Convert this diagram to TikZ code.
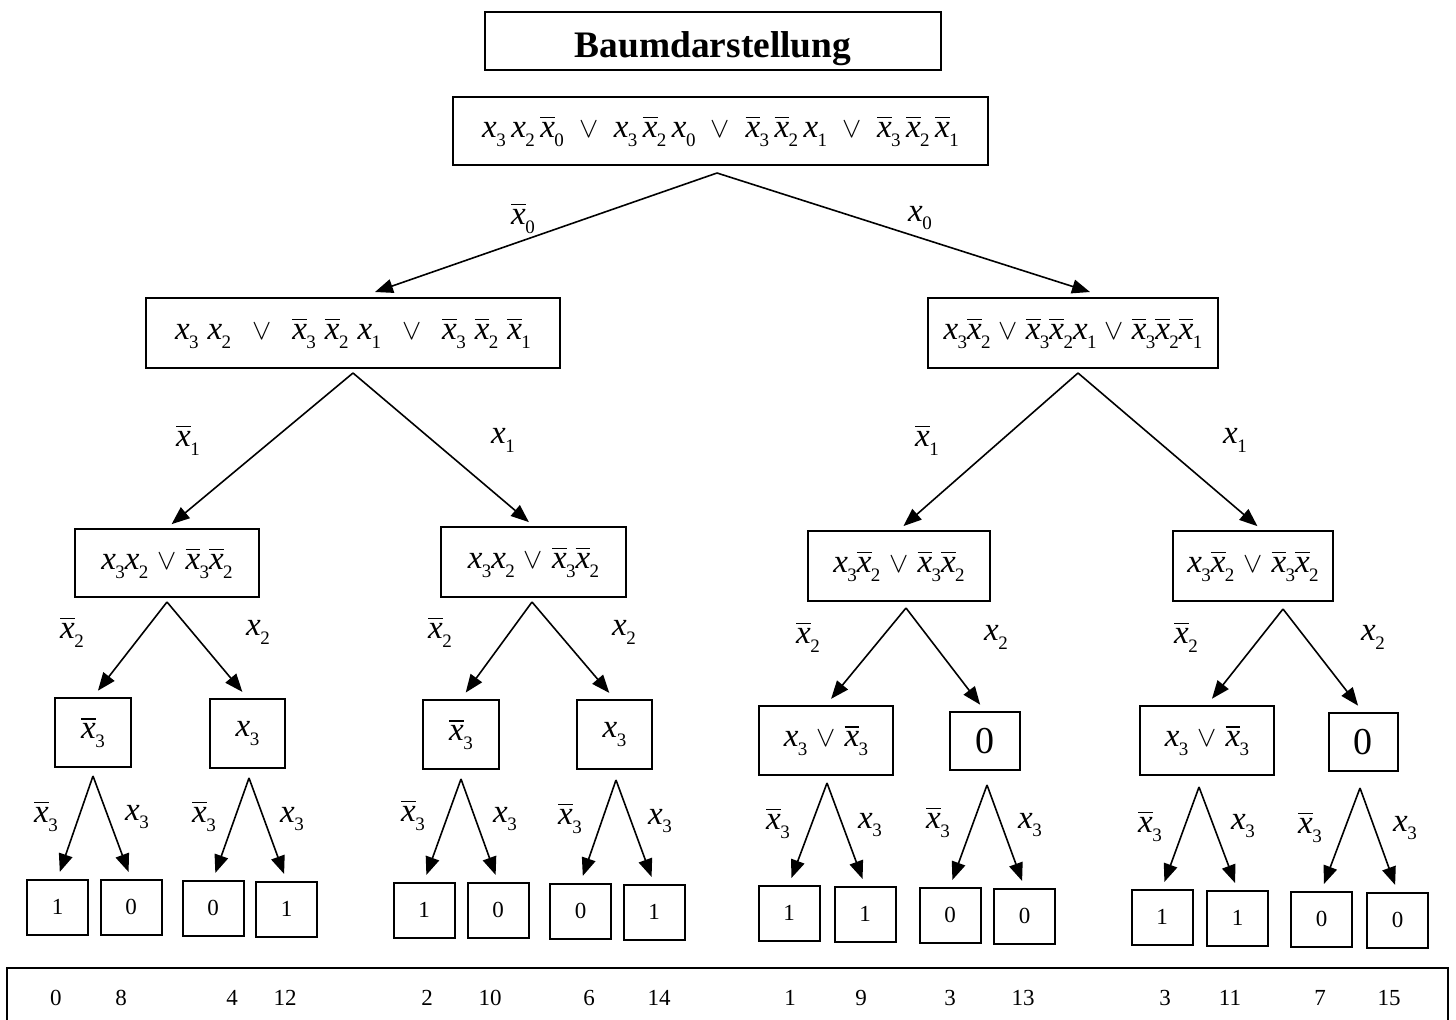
\documentclass[tikz,border=0pt]{standalone}
\usepackage{amsmath}
\usepackage{fontspec}
\setmainfont{Liberation Serif}
\usepackage{tikz}
\usetikzlibrary{arrows.meta}

\newcommand{\xp}[1]{\textit{x}\kern-0.3pt\raisebox{-0.27em}{\fontsize{9.5}{11}\selectfont #1}}
\newcommand{\xq}[1]{$\overline{\textit{x}}$\kern-0.3pt\raisebox{-0.27em}{\fontsize{9.5}{11}\selectfont #1}}
\newcommand{\oder}{{\fontsize{14}{16}\selectfont$\vee$}}
\newcommand{\ou}[1][4.5pt]{\hspace{#1}\oder\hspace{#1}}

\tikzset{
  titel/.style={draw, line width=1pt, inner sep=0pt, minimum width=228pt, minimum height=29pt,
    text height=18pt, text depth=2pt, font=\bfseries\fontsize{18.7}{22}\selectfont},
  knoten/.style={draw, line width=1pt, inner sep=0pt, font=\fontsize{16.5}{19}\selectfont},
  blatt/.style={draw, line width=1pt, inner sep=0pt, minimum width=30.5pt, minimum height=27.5pt,
    font=\fontsize{11.5}{13}\selectfont},
  marke/.style={inner sep=0pt, font=\fontsize{16.5}{19}\selectfont},
  kante/.style={-{Triangle[length=9pt,width=7pt]}, line width=0.8pt},
}

\begin{document}
\begin{tikzpicture}[x=0.5pt,y=-0.5pt]
\useasboundingbox (0,0) rectangle (1456,1019);
\node[titel] (titel) at (713,41) {Baumdarstellung};
\node[knoten, minimum width=267.5pt, minimum height=34pt] (w) at (720.5,131)
  {\xp{3}\,\xp{2}\,\xq{0}\ou[7.7pt]\xp{3}\,\xq{2}\,\xp{0}\ou[7.7pt]\xq{3}\,\xq{2}\,\xp{1}\ou[7.7pt]\xq{3}\,\xq{2}\,\xq{1}};
% erste Ebene
\node[knoten, minimum width=207pt, minimum height=35pt] (l1) at (353,333)
  {\xp{3}\hspace{4.5pt}\xp{2}\ou[10.5pt]\xq{3}\hspace{4.5pt}\xq{2}\hspace{4.5pt}\xp{1}\ou[10.5pt]\xq{3}\hspace{4.5pt}\xq{2}\hspace{4.5pt}\xq{1}};
\node[knoten, minimum width=145pt, minimum height=35pt] (l2) at (1073,333)
  {\xp{3}\xq{2}\ou[4pt]\xq{3}\xq{2}\xp{1}\ou[4pt]\xq{3}\xq{2}\xq{1}};
% zweite Ebene
\node[knoten, minimum width=92pt, minimum height=34pt] (m1) at (167,563) {\xp{3}\xp{2}\ou\xq{3}\xq{2}};
\node[knoten, minimum width=92.5pt, minimum height=35pt] (m2) at (533.5,562) {\xp{3}\xp{2}\ou\xq{3}\xq{2}};
\node[knoten, minimum width=91pt, minimum height=35pt] (m3) at (899,566) {\xp{3}\xq{2}\ou\xq{3}\xq{2}};
\node[knoten, minimum width=80pt, minimum height=35pt] (m4) at (1253,566) {\xp{3}\xq{2}\ou\xq{3}\xq{2}};
% dritte Ebene
\node[knoten, minimum width=38pt, minimum height=34.5pt] (c1) at (93,732.5) {\xq{3}};
\node[knoten, minimum width=37.5pt, minimum height=34.5pt] (c2) at (247.5,733.5) {\xp{3}};
\node[knoten, minimum width=38pt, minimum height=34.5pt] (c3) at (461,734.5) {\xq{3}};
\node[knoten, minimum width=37.5pt, minimum height=34.5pt] (c4) at (614.5,734.5) {\xp{3}};
\node[knoten, minimum width=67pt, minimum height=34.5pt] (c5) at (826,740.5) {\xp{3}\ou\xq{3}};
\node[knoten, minimum width=35pt, minimum height=29pt, font=\fontsize{19}{22}\selectfont] (c6) at (985,741) {0};
\node[knoten, minimum width=67pt, minimum height=34.5pt] (c7) at (1207,740.5) {\xp{3}\ou\xq{3}};
\node[knoten, minimum width=34.5pt, minimum height=29pt, font=\fontsize{19}{22}\selectfont] (c8) at (1363,742) {0};
% Blaetter
\foreach \k/\x/\y/\v in {1/57.5/907/1, 2/131/907/0, 3/213/908/0, 4/286.5/909/1,
  5/424/910/1, 6/498/910/0, 7/580.5/911/0, 8/654/912/1,
  9/789/913/1, 10/865/914/1, 11/950/915/0, 12/1024.5/916/0,
  13/1162/917/1, 14/1237.5/918/1, 15/1321.5/919/0, 16/1397.5/920/0}
  \node[blatt] (b\k) at (\x,\y) {\v};
% Kanten
\coordinate (pw) at (717,173);
\draw[kante] (pw) -- ([xshift=11pt,yshift=2.5pt]l1.north);
\draw[kante] (pw) -- ([xshift=8.5pt,yshift=2.5pt]l2.north);
\coordinate (r1) at (353,373);
\coordinate (r2) at (1078,373);
\draw[kante, shorten >=3pt] (r1) -- (m1.north);
\draw[kante, shorten >=3pt] (r1) -- (m2.north);
\draw[kante, shorten >=3pt] (r2) -- (m3.north);
\draw[kante, shorten >=3pt] (r2) -- ([xshift=4.5pt]m4.north);
\foreach \i/\x/\y in {1/167/602, 2/532/602, 3/906/608, 4/1283/609} {
  \coordinate (q\i) at (\x,\y);
  \pgfmathtruncatemacro\l{2*\i-1}
  \pgfmathtruncatemacro\r{2*\i}
  \draw[kante, shorten >=4pt] (q\i) -- (c\l.north);
  \draw[kante, shorten >=4pt] (q\i) -- (c\r.north);
}
\foreach \i/\x/\y in {1/93/776, 2/249/778, 3/461/779, 4/616/780,
  5/827/783, 6/987/785, 7/1199/787, 8/1360/788} {
  \coordinate (p\i) at (\x,\y);
  \pgfmathtruncatemacro\l{2*\i-1}
  \pgfmathtruncatemacro\r{2*\i}
  \draw[kante, shorten >=3.5pt] (p\i) -- (b\l.north);
  \draw[kante, shorten >=3.5pt] (p\i) -- (b\r.north);
}
% Beschriftungen
\node[marke] (e0a) at (523,218) {\xq{0}};
\node[marke] (e0b) at (920,218) {\xp{0}};
\foreach \k/\x in {1/188, 3/927} \node[marke] (e1\k) at (\x,440) {\xq{1}};
\foreach \k/\x in {2/503, 4/1235} \node[marke] (e1\k) at (\x,440) {\xp{1}};
\foreach \k/\x/\y in {1/72/632, 3/440/632, 5/808/637, 7/1186/637}
  \node[marke] (e2\k) at (\x,\y) {\xq{2}};
\foreach \k/\x/\y in {2/258/632, 4/624/632, 6/996/637, 8/1373/637}
  \node[marke] (e2\k) at (\x,\y) {\xp{2}};
\foreach \k/\x/\y in {1/46/816, 3/204/816, 5/413/815, 7/570/818,
  9/778/823, 11/938/822, 13/1150/826, 15/1310/827}
  \node[marke] (e3\k) at (\x,\y) {\xq{3}};
\foreach \k/\x/\y in {2/137/817, 4/292/819, 6/505/819, 8/660/821,
  10/870/825, 12/1030/825, 14/1243/826, 16/1405/828}
  \node[marke] (e3\k) at (\x,\y) {\xp{3}};
% Indexzeile
\node[draw, line width=1pt, inner sep=0pt, minimum width=720.5pt, minimum height=40pt] (index) at (727.5,1008) {};
\foreach \x/\v [count=\k] in {56/0, 121/8, 232/4, 285/12, 427/2, 490/10, 589/6, 659/14,
  790/1, 861/9, 950/3, 1023/13, 1165/3, 1230/11, 1320/7, 1389/15}
  \node[blatt, draw=none] (z\k) at (\x,998) {\v};
\end{tikzpicture}
\end{document}
